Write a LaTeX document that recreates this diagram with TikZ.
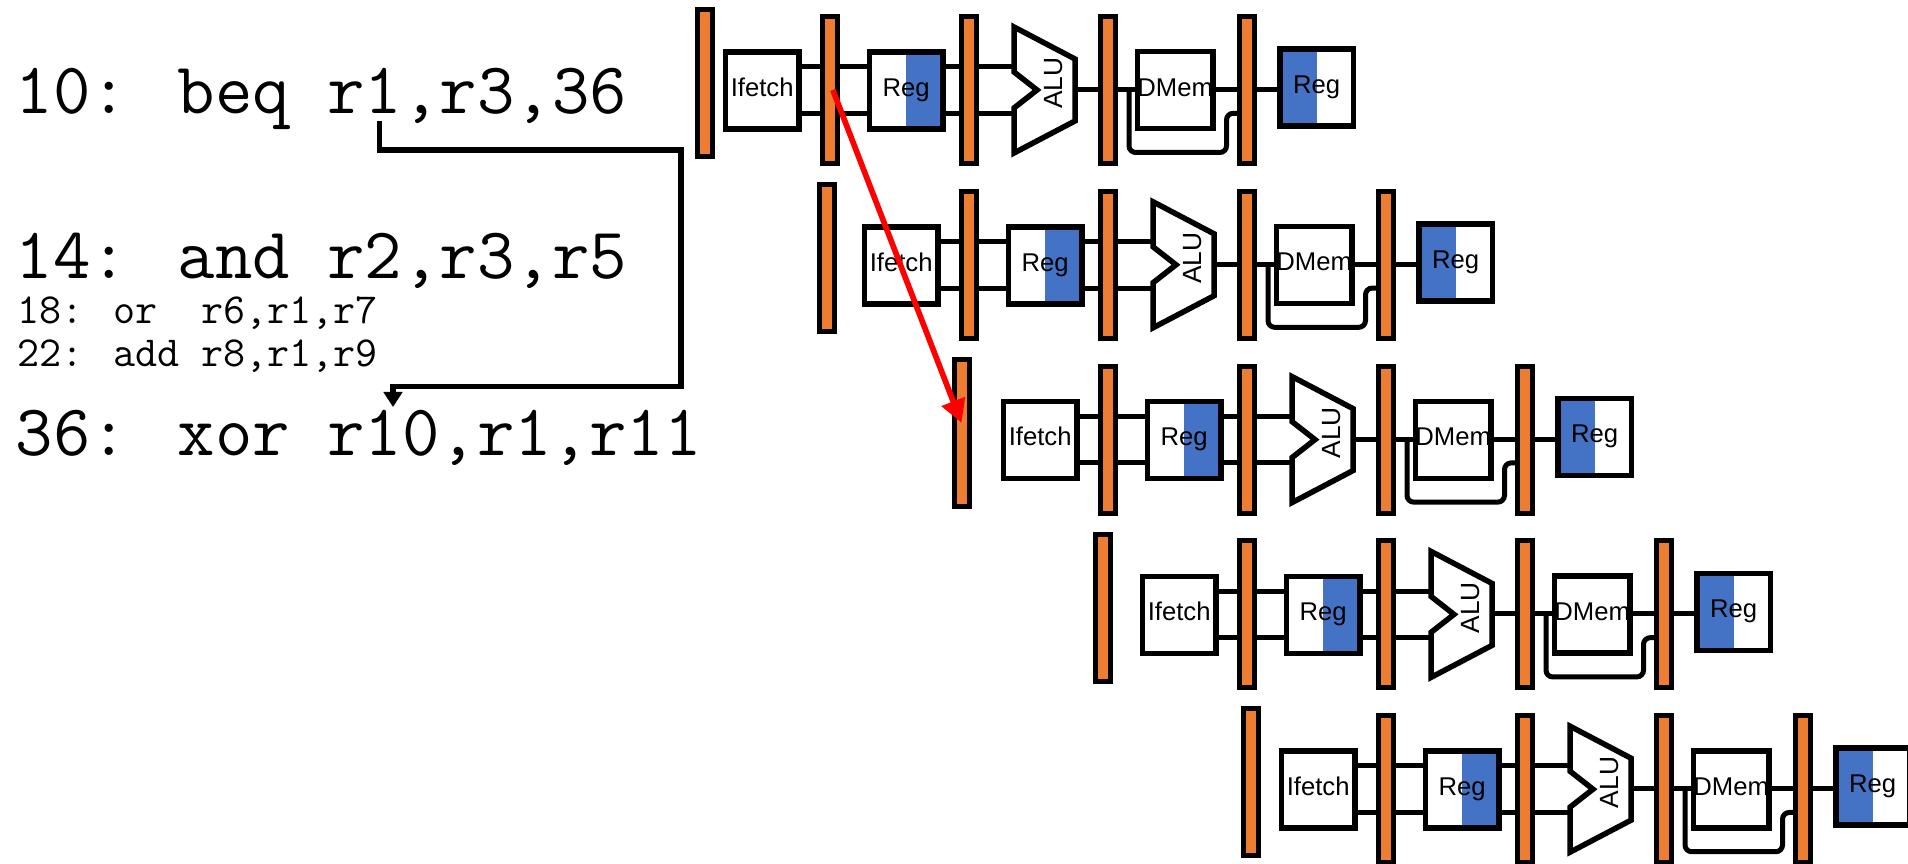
\documentclass[tikz,border=0pt]{standalone}
\usepackage{fontspec}
\setmainfont{Liberation Sans}
\usetikzlibrary{arrows.meta}
\definecolor{latchorange}{HTML}{ED7D31}
\definecolor{regblue}{HTML}{4472C4}
\tikzset{
  stagebox/.style={draw, fill=white, line width=1.65pt, minimum width=22pt,
    minimum height=23.1pt, inner sep=0pt, font=\fontsize{7.7}{9}\selectfont,
    text height=0.7em, text depth=0.35em},
  regright/.style={stagebox, path picture={\fill[regblue]
    (path picture bounding box.north) rectangle (path picture bounding box.south east);}},
  regleft/.style={stagebox, path picture={\fill[regblue]
    (path picture bounding box.north west) rectangle (path picture bounding box.south);}},
  latch/.style={draw, fill=latchorange, line width=1.5pt, minimum width=4.5pt,
    minimum height=44.1pt, inner sep=0pt},
  wire/.style={line width=1.5pt},
  bigcode/.style={font=\ttfamily\fontsize{21.8}{24}\selectfont, anchor=base west, inner sep=0pt},
  smallcode/.style={font=\ttfamily\fontsize{12.85}{15}\selectfont, anchor=base west, inner sep=0pt},
}
\begin{document}
\begin{tikzpicture}[x=0.3pt, y=-0.3pt]
  \useasboundingbox (0,0) rectangle (1908,864);

  % instruction listing
  \node[bigcode] (ins10) at (15,114) {10: beq r1,r3,36};
  \node[bigcode] (ins14) at (15,279) {14: and r2,r3,r5};
  \node[smallcode] (ins18) at (17,323.5) {18: or~~r6,r1,r7};
  \node[smallcode] (ins22) at (17,366.5) {22: add r8,r1,r9};
  \node[bigcode] (ins36) at (15,456) {36: xor r10,r1,r11};

  % branch target
  \coordinate (brsrc) at (379.6,121);
  \coordinate (brdst) at (393,407);
  \draw[line width=1.6pt, -{Triangle[width=5.5pt,length=4.5pt]}]
    (brsrc) |- (681,150) |- (393,386.7) -- (brdst);

  % one pipeline row per instruction
  \foreach \r/\lz in {0/-124.4, 1/-142, 2/-146, 3/-143.7, 4/-135} {
    \begin{scope}[shift={(139*\r,174.8*\r)}]
      \coordinate (aluin1\r) at (1014,66.7);
      \coordinate (aluin2\r) at (1014,113.3);
      \coordinate (aluout\r) at (1075,89.5);
      \coordinate (byp\r) at (1129,89.5);
      \coordinate (bypin\r) at (1246,113.3);

      \node[stagebox] (ifetch\r) at (762.2,90.5) {Ifetch};
      \node[regright] (regd\r) at (906.2,90.5) {Reg};
      \draw[line width=1.65pt, fill=white] (1014,27) -- (1075,59) -- (1075,121)
        -- (1014,153) -- (1014,108) -- (1037,90) -- (1014,72) -- cycle;
      \node[rotate=90, inner sep=0pt, font=\fontsize{7.9}{9}\selectfont] (alu\r) at (1054,83.3) {ALU};
      \node[stagebox] (dmem\r) at (1175.2,90.2) {DMem};
      \node[regleft] (regw\r) at (1316.7,87.5) {Reg};

      % wires
      \draw[wire] (ifetch\r.east |- aluin1\r) -- (regd\r.west |- aluin1\r);
      \draw[wire] (ifetch\r.east |- aluin2\r) -- (regd\r.west |- aluin2\r);
      \draw[wire] (regd\r.east |- aluin1\r) -- (aluin1\r);
      \draw[wire] (regd\r.east |- aluin2\r) -- (aluin2\r);
      \draw[wire] (aluout\r) -- (dmem\r.west |- aluout\r);
      \draw[wire] (dmem\r.east |- aluout\r) -- (regw\r.west |- aluout\r);
      \draw[wire, rounded corners=2pt] (byp\r) |- (1226.5,152.5) |- (bypin\r);

      % pipeline latches
      \node[latch] (lat\r-0) at (829.5+\lz,83.3) {};
      \foreach \k in {1,...,4}
        \node[latch] (lat\r-\k) at ({829.5+139*(\k-1)},90) {};
    \end{scope}
  }

  % taken branch
  \draw[red, line width=1.7pt, -{Triangle[width=7.2pt,length=6.9pt]}]
    ([xshift=1pt]lat0-1.center) -- ([yshift=3pt]lat2-0.center);
\end{tikzpicture}
\end{document}
